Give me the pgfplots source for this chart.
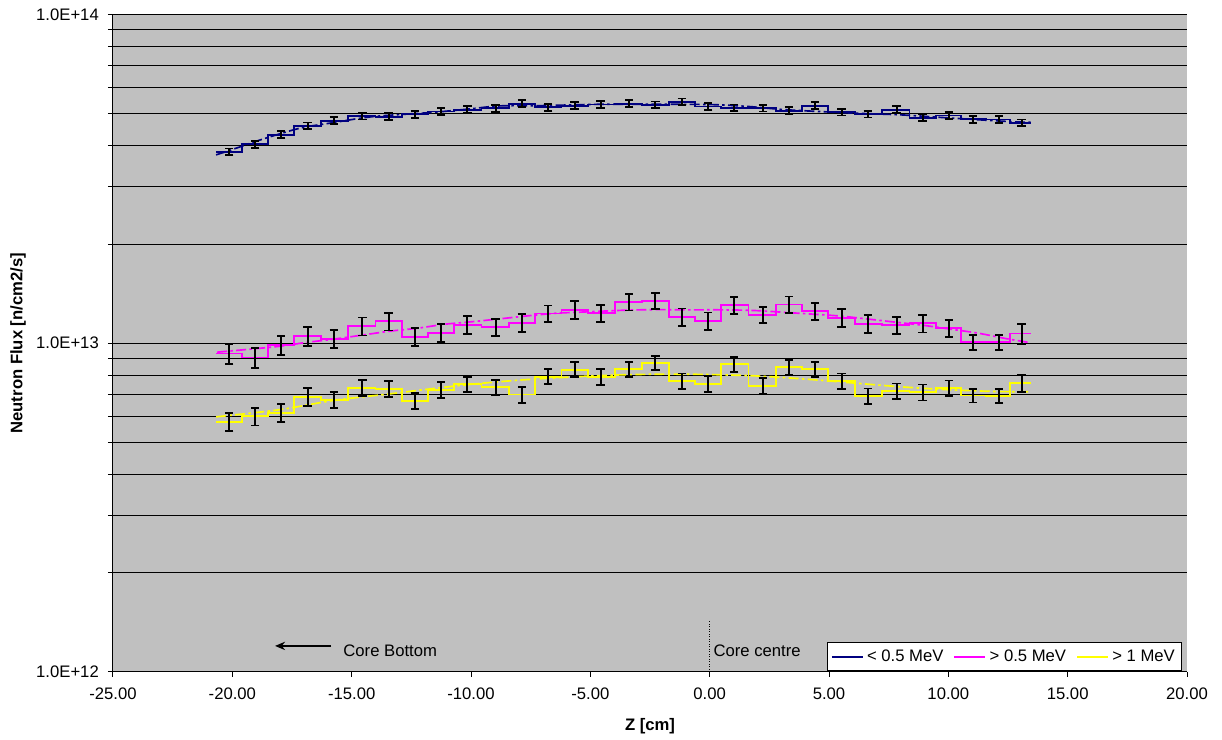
\documentclass[border=0pt]{standalone}
\usepackage{fontspec}
\setmainfont{Liberation Sans}
\usepackage{pgfplots}
\usepackage{pgfplotstable}
\pgfplotsset{compat=1.18}
\usetikzlibrary{arrows.meta}
\definecolor{bggray}{RGB}{192,192,192}
\definecolor{navy}{RGB}{0,0,128}
\definecolor{mag}{RGB}{255,0,255}
\definecolor{yel}{RGB}{255,255,0}

\pgfplotstableread{
x y e
-20.68 3.82e13 0
-20.13 3.82e13 0.024
-19.04 4.03e13 0.024
-17.95 4.31e13 0.024
-16.85 4.58e13 0.024
-15.75 4.75e13 0.024
-14.55 4.91e13 0.024
-13.45 4.89e13 0.024
-12.35 4.97e13 0.024
-11.25 5.07e13 0.024
-10.15 5.13e13 0.024
-8.97 5.18e13 0.024
-7.86 5.35e13 0.024
-6.76 5.22e13 0.024
-5.66 5.28e13 0.024
-4.57 5.32e13 0.024
-3.37 5.35e13 0.024
-2.27 5.31e13 0.024
-1.16 5.42e13 0.024
-0.06 5.25e13 0.024
1.03 5.20e13 0.024
2.23 5.19e13 0.024
3.33 5.10e13 0.024
4.42 5.28e13 0.024
5.53 5.05e13 0.024
6.62 4.98e13 0.024
7.83 5.13e13 0.024
8.92 4.85e13 0.024
10.02 4.93e13 0.024
11.02 4.80e13 0.024
12.12 4.79e13 0.024
13.07 4.68e13 0.024
13.45 4.68e13 0
}\lowE

\pgfplotstableread{
x y e
-20.68 9.30e12 0
-20.13 9.30e12 0.070
-19.04 9.05e12 0.069
-17.95 9.87e12 0.066
-16.85 1.050e13 0.065
-15.75 1.032e13 0.064
-14.55 1.126e13 0.063
-13.45 1.165e13 0.062
-12.35 1.047e13 0.064
-11.25 1.077e13 0.063
-10.15 1.138e13 0.064
-8.97 1.119e13 0.061
-7.86 1.153e13 0.063
-6.76 1.231e13 0.058
-5.66 1.263e13 0.061
-4.57 1.235e13 0.060
-3.37 1.335e13 0.058
-2.27 1.345e13 0.058
-1.16 1.202e13 0.061
-0.06 1.169e13 0.061
1.03 1.305e13 0.058
2.23 1.220e13 0.058
3.33 1.311e13 0.058
4.42 1.252e13 0.060
5.53 1.196e13 0.061
6.62 1.146e13 0.062
7.83 1.134e13 0.061
8.92 1.149e13 0.062
10.02 1.111e13 0.061
11.02 1.008e13 0.0525
12.12 1.008e13 0.0525
13.07 1.070e13 0.070
13.45 1.070e13 0
}\midE

\pgfplotstableread{
x y e
-20.68 5.76e12 0
-20.13 5.76e12 0.063
-19.04 5.99e12 0.062
-17.95 6.15e12 0.061
-16.85 6.87e12 0.061
-15.75 6.72e12 0.057
-14.55 7.31e12 0.056
-13.45 7.26e12 0.056
-12.35 6.67e12 0.055
-11.25 7.22e12 0.055
-10.15 7.50e12 0.054
-8.97 7.34e12 0.055
-7.86 6.98e12 0.056
-6.76 7.91e12 0.0525
-5.66 8.31e12 0.0525
-4.57 7.91e12 0.054
-3.37 8.34e12 0.0525
-2.27 8.71e12 0.051
-1.16 7.67e12 0.055
-0.06 7.52e12 0.054
1.03 8.62e12 0.0525
2.23 7.43e12 0.054
3.33 8.45e12 0.054
4.42 8.34e12 0.0525
5.53 7.67e12 0.055
6.62 6.90e12 0.055
7.83 7.15e12 0.055
8.92 7.09e12 0.056
10.02 7.31e12 0.054
11.02 6.93e12 0.047
12.12 6.92e12 0.048
13.07 7.55e12 0.058
13.45 7.55e12 0
}\highE

\pgfplotstableread{
x y
-20.68 3.74e13
-19.97 3.89e13
-18.71 4.18e13
-17.16 4.51e13
-15.91 4.67e13
-14.10 4.89e13
-11.70 5.03e13
-10.16 5.15e13
-8.80 5.27e13
-7.10 5.28e13
-4.60 5.33e13
-2.50 5.33e13
0.00 5.32e13
1.60 5.25e13
3.20 5.13e13
6.00 5.01e13
8.00 4.95e13
10.10 4.84e13
12.60 4.72e13
13.45 4.70e13
}\lowFit

\pgfplotstableread{
x y
-20.64 9.39e12
-19.26 9.59e12
-18.00 9.79e12
-16.96 1.004e13
-15.79 1.028e13
-14.57 1.058e13
-13.40 1.088e13
-12.23 1.111e13
-11.09 1.142e13
-9.92 1.163e13
-8.70 1.188e13
-7.53 1.213e13
-6.40 1.234e13
-5.18 1.245e13
-3.55 1.260e13
-2.21 1.265e13
-0.83 1.263e13
0.52 1.263e13
1.90 1.257e13
3.45 1.237e13
5.38 1.211e13
6.55 1.186e13
7.68 1.161e13
8.93 1.134e13
10.11 1.103e13
11.24 1.073e13
12.41 1.033e13
13.42 1.004e13
}\midFit

\pgfplotstableread{
x y
-20.68 5.97e12
-18.00 6.28e12
-15.75 6.70e12
-13.50 7.00e12
-12.00 7.22e12
-10.00 7.50e12
-8.00 7.72e12
-6.00 7.88e12
-4.00 8.00e12
-2.00 8.05e12
0.00 8.03e12
2.00 7.95e12
4.00 7.78e12
6.00 7.57e12
8.00 7.37e12
10.00 7.22e12
12.00 7.13e12
13.45 7.12e12
}\highFit

\pgfplotsset{
  errbar/.style={draw=none, mark=none, forget plot,
    skip coords between index={0}{1}, skip coords between index={32}{33},
    error bars/.cd, y dir=both, y explicit relative,
    error bar style={draw=black, solid, line width=1.2pt},
    error mark options={rotate=90, draw=black, solid, line width=1.1pt, mark size=2.5pt}},
  fitline/.style={line width=1pt, smooth, dash pattern=on 6pt off 2pt on 1.5pt off 2pt, forget plot},
  stepline/.style={line width=1.1pt, const plot mark mid, mark=none},
}

\begin{document}
\begin{tikzpicture}[font=\fontsize{10}{12}\selectfont]
\begin{axis}[
  scale only axis,
  width=644.4pt, height=394.5pt,
  at={(0,0)}, anchor=south west,
  xmin=-25, xmax=20,
  ymode=log, ymin=1e12, ymax=1e14,
  axis background/.style={fill=bggray},
  axis x line*=bottom, axis y line*=left,
  axis line style={black, line width=0.6pt, -},
  xtick={-25,-20,-15,-10,-5,0,5,10,15,20},
  xticklabels={-25.00,-20.00,-15.00,-10.00,-5.00,0.00,5.00,10.00,15.00,20.00},
  ytick={1e12,1e13,1e14},
  yticklabels={1.0E+12,1.0E+13,1.0E+14},
  minor ytick={2e12,3e12,4e12,5e12,6e12,7e12,8e12,9e12,2e13,3e13,4e13,5e13,6e13,7e13,8e13,9e13},
  ymajorgrids, yminorgrids,
  major grid style={black, line width=0.6pt},
  minor grid style={black, line width=0.6pt},
  tick align=outside,
  major tick length=3pt, minor tick length=3pt,
  tick style={black, line width=0.6pt},
  ticklabel style={font=\fontsize{10}{12}\selectfont},
  xticklabel style={yshift=-3pt},
  yticklabel style={xshift=-2pt},
  xlabel={\textbf{Z [cm]}},
  ylabel={\textbf{Neutron Flux [n/cm2/s]}},
  xlabel style={at={(axis description cs:0.5,-0.0821)}, anchor=center},
  ylabel style={at={(axis description cs:-0.0885,0.5)}, anchor=center},
  legend columns=3,
  legend style={at={(axis description cs:0.9953,0.0015)}, anchor=south east,
    draw=black, line width=0.6pt, fill=white, font=\fontsize{10}{12}\selectfont,
    inner xsep=2pt, inner ysep=2pt,
    /tikz/every even column/.append style={column sep=4pt}},
  legend image code/.code={\draw[#1] (0pt,0pt) -- (18.6pt,0pt);},
  clip=false,
]
% fitted curves
\addplot[navy, fitline] table[x=x,y=y] {\lowFit};
\addplot[mag, fitline] table[x=x,y=y] {\midFit};
\addplot[yel, fitline] table[x=x,y=y] {\highFit};
% steps
\addplot[navy, stepline] table[x=x,y=y] {\lowE};
\addlegendentry{< 0.5 MeV}
\addplot[mag, stepline] table[x=x,y=y] {\midE};
\addlegendentry{> 0.5 MeV}
\addplot[yel, stepline] table[x=x,y=y] {\highE};
\addlegendentry{> 1 MeV}
% error bars
\addplot[errbar] table[x=x,y=y,y error=e] {\lowE};
\addplot[errbar] table[x=x,y=y,y error=e] {\midE};
\addplot[errbar] table[x=x,y=y,y error=e] {\highE};
% annotations
\draw[black, densely dotted, line width=0.5pt] (axis cs:0,1e12) -- (axis cs:0,1.44e12);
\node[anchor=west, inner sep=0pt] at (axis cs:0.15,1.158e12) {Core centre};
\draw[black, line width=0.8pt, -{Stealth[length=6pt, width=5pt]}] (axis cs:-15.86,1.2e12) -- (axis cs:-18.21,1.2e12);
\node[anchor=west, inner sep=0pt] at (axis cs:-15.36,1.158e12) {Core Bottom};
\end{axis}
\pgfresetboundingbox
\useasboundingbox (-67.8pt,-40.8pt) rectangle (665.4pt,403.2pt);
\end{tikzpicture}
\end{document}
